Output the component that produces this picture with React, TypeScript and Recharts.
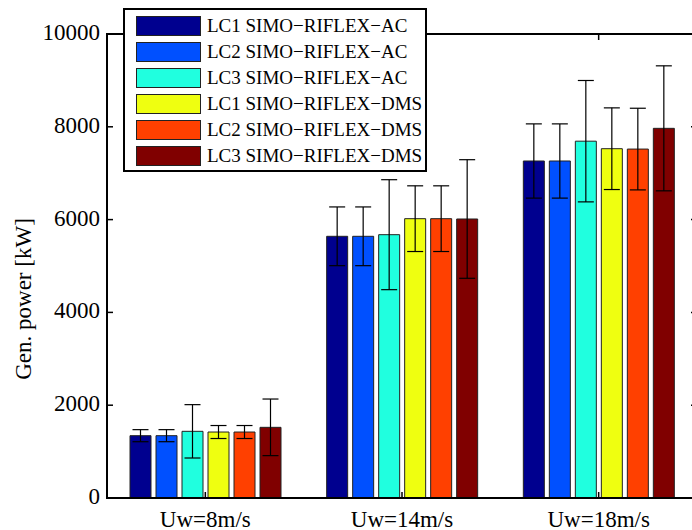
import { Bar, BarChart, ErrorBar, XAxis, YAxis } from 'recharts'

const categories = ['Uw=8m/s', 'Uw=14m/s', 'Uw=18m/s']
const seriesNames = [
  'LC1 SIMO\u2212RIFLEX\u2212AC',
  'LC2 SIMO\u2212RIFLEX\u2212AC',
  'LC3 SIMO\u2212RIFLEX\u2212AC',
  'LC1 SIMO\u2212RIFLEX\u2212DMS',
  'LC2 SIMO\u2212RIFLEX\u2212DMS',
  'LC3 SIMO\u2212RIFLEX\u2212DMS',
]
const seriesColors = ['#00008f', '#0050ff', '#20ffdf', '#efff10', '#ff4000', '#800000']

const lc1Ac = [1343, 5640, 7263]
const lc2Ac = [1343, 5640, 7263]
const lc3Ac = [1437, 5675, 7690]
const lc1Dms = [1422, 6020, 7528]
const lc2Dms = [1422, 6020, 7520]
const lc3Dms = [1523, 6013, 7967]

const lc1AcErr = [130, 633, 800]
const lc2AcErr = [130, 633, 800]
const lc3AcErr = [575, 1185, 1308]
const lc1DmsErr = [140, 708, 880]
const lc2DmsErr = [140, 708, 880]
const lc3DmsErr = [610, 1278, 1347]

const yTicks = [0, 2000, 4000, 6000, 8000, 10000]

const values = [lc1Ac, lc2Ac, lc3Ac, lc1Dms, lc2Dms, lc3Dms]
const errors = [lc1AcErr, lc2AcErr, lc3AcErr, lc1DmsErr, lc2DmsErr, lc3DmsErr]

const data = categories.map((name, i) => {
  const row: Record<string, string | number> = { name }
  values.forEach((v, s) => {
    row[`s${s}`] = v[i]
    row[`e${s}`] = errors[s][i]
  })
  return row
})

const FONT = 'Liberation Serif'

// layout of the axes box (chart is wider than the window, right edge is cut like the original)
const CHART_W = 720
const CHART_H = 530
const Y_AXIS_W = 107
const X_AXIS_H = 32
const M_TOP = 34
const M_RIGHT = 23
const PLOT_W = CHART_W - Y_AXIS_W - M_RIGHT
const PLOT_H = CHART_H - M_TOP - X_AXIS_H
const TICK_LEN = 6

// matlab style: label outside, small tick inside on both sides
function YTick({ x, y, payload }: any) {
  const ax = x + 7
  return (
    <g>
      <text x={x} y={y} dy={6} textAnchor="end" fontFamily={FONT} fontSize={23} fill="#000">
        {payload.value}
      </text>
      <line x1={ax} x2={ax + TICK_LEN} y1={y} y2={y} stroke="#000" strokeWidth={1.5} />
      <line x1={ax + PLOT_W - TICK_LEN} x2={ax + PLOT_W} y1={y} y2={y} stroke="#000" strokeWidth={1.5} />
    </g>
  )
}

function XTick({ x, y, payload }: any) {
  return (
    <g>
      <line x1={x} x2={x} y1={y} y2={y - TICK_LEN} stroke="#000" strokeWidth={1.5} />
      <line x1={x} x2={x} y1={y - PLOT_H} y2={y - PLOT_H + TICK_LEN} stroke="#000" strokeWidth={1.5} />
      <text x={x} y={y} dy={29} textAnchor="middle" fontFamily={FONT} fontSize={23} fill="#000">
        {payload.value}
      </text>
    </g>
  )
}

function YLabel({ viewBox }: any) {
  const x = viewBox.x + 23
  const y = viewBox.y + viewBox.height / 2 + 33
  return (
    <text
      x={x}
      y={y}
      transform={`rotate(-90, ${x}, ${y})`}
      textAnchor="middle"
      dominantBaseline="central"
      fontFamily={FONT}
      fontSize={23}
      fill="#000"
    >
      Gen. power [kW]
    </text>
  )
}

function LegendBox() {
  return (
    <div
      style={{
        position: 'absolute',
        left: 123,
        top: 8,
        width: 300,
        height: 160,
        border: '2px solid #000',
        background: '#fff',
        fontFamily: FONT,
        fontSize: 19,
        color: '#000',
      }}
    >
      {seriesNames.map((n, i) => (
        <div
          key={n}
          style={{ position: 'absolute', left: 11, top: 5 + i * 26, height: 21, display: 'flex', alignItems: 'center' }}
        >
          <div
            style={{
              width: 63,
              height: 18,
              background: seriesColors[i],
              border: '1px solid #222',
              marginRight: 6,
            }}
          />
          <span style={{ whiteSpace: 'nowrap', lineHeight: '21px' }}>{n}</span>
        </div>
      ))}
    </div>
  )
}

export default function App() {
  return (
    <div style={{ position: 'absolute', left: 0, top: 0, width: 692, height: 530, overflow: 'hidden' }}>
      <BarChart
        width={CHART_W}
        height={CHART_H}
        data={data}
        margin={{ top: M_TOP, right: M_RIGHT, bottom: 0, left: 0 }}
        barSize={21}
        barGap={5}
      >
        <XAxis
          dataKey="name"
          height={X_AXIS_H}
          stroke="#000"
          strokeWidth={2}
          tickLine={false}
          tickSize={0}
          tickMargin={0}
          tick={<XTick />}
        />
        <YAxis
          domain={[0, 10000]}
          ticks={yTicks}
          width={Y_AXIS_W}
          interval={0}
          stroke="#000"
          strokeWidth={2}
          tickLine={false}
          tickSize={0}
          tickMargin={7}
          tick={<YTick />}
          label={<YLabel />}
        />
        {seriesNames.map((n, s) => (
          <Bar
            key={n}
            dataKey={`s${s}`}
            name={n}
            fill={seriesColors[s]}
            stroke="#222"
            strokeWidth={1}
            isAnimationActive={false}
          >
            <ErrorBar dataKey={`e${s}`} width={8} stroke="#000" strokeWidth={1.2} />
          </Bar>
        ))}
      </BarChart>
      {/* axes box */}
      <div
        style={{
          position: 'absolute',
          left: Y_AXIS_W - 1,
          top: M_TOP - 1,
          width: PLOT_W + 2,
          height: PLOT_H + 2,
          border: '2px solid #000',
          boxSizing: 'border-box',
          pointerEvents: 'none',
        }}
      />
      <LegendBox />
    </div>
  )
}
